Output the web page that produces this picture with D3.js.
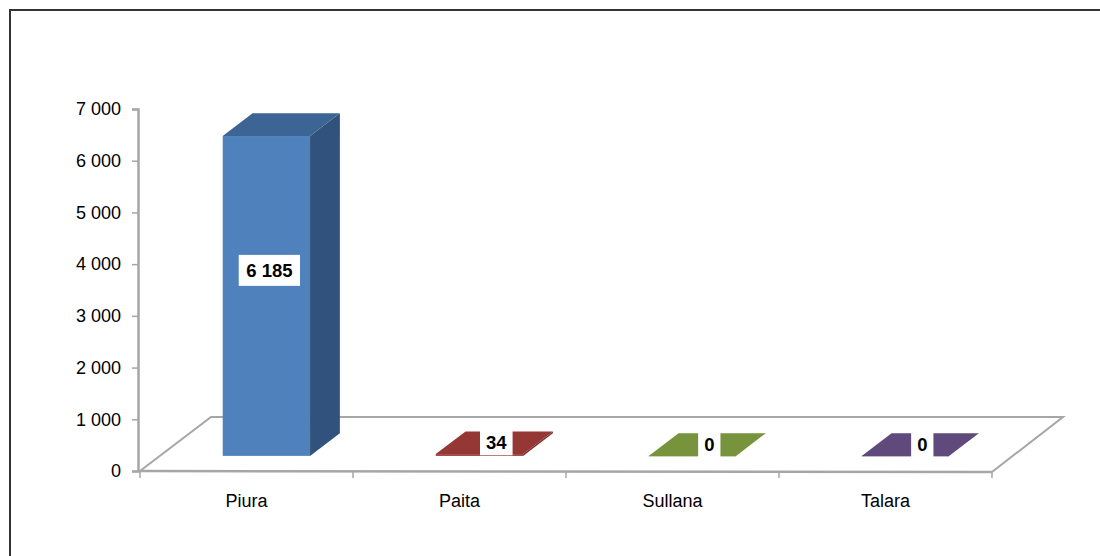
<!DOCTYPE html>
<html>
<head>
<meta charset="utf-8">
<script src="https://cdn.jsdelivr.net/npm/d3@7"></script>
<style>
  body { margin: 0; background: #fff; }
  text { font-family: "Liberation Sans", Arial, sans-serif; }
</style>
</head>
<body>
<svg id="chart" width="1100" height="556"></svg>
<script>
// data
const categories = ["Piura", "Paita", "Sullana", "Talara"];
const values = [6185, 34, 0, 0];
const yTicks = [0, 1000, 2000, 3000, 4000, 5000, 6000, 7000];

// colours per bar: front, side, top
const fronts = ["#4f81bd", "#953735", "#77933c", "#604a7b"];
const sides = ["#30527d", "#7a2c2b", "#5f7830", "#4c3b63"];
const tops = ["#3c6494", "#953735", "#77933c", "#604a7b"];

const svg = d3.select("#chart");

// frame around the chart (runs off the right and bottom)
svg.append("rect")
  .attr("x", 10).attr("y", 10)
  .attr("width", 1200).attr("height", 700)
  .attr("fill", "none")
  .attr("stroke", "#333")
  .attr("stroke-width", 2);

const fmt = d3.formatLocale({ decimal: ",", thousands: " ", grouping: [3], currency: ["", ""] }).format(",d");

// scales
const x = d3.scaleBand().domain(categories).range([140, 992]).paddingInner(0).paddingOuter(0);
const y = d3.scaleLinear().domain([0, 7000]).range([471, 109]);

// floor depth (3d offset front -> back)
const depthX = 71, depthY = -54;
const barD0 = 0.28, barD1 = 0.70;   // bar sits between these depth fractions
const barPad = 0.295;               // share of band left empty on each side

// floor outline
const x0 = x.range()[0], x1 = x.range()[1], yb = y(0);
svg.append("path")
  .attr("d", `M${x0},${yb} L${x0 + depthX},${yb + depthY} L${x1 + depthX},${yb + depthY} L${x1},${yb + 1}`)
  .attr("fill", "none")
  .attr("stroke", "#a6a6a6")
  .attr("stroke-width", 2);

// y axis
const yAxis = d3.axisLeft(y).tickValues(yTicks).tickFormat(fmt).tickSize(6).tickPadding(11);
const yg = svg.append("g").attr("transform", `translate(${x0 - 2},0)`).call(yAxis);
yg.select(".domain").attr("stroke", "#a6a6a6").attr("stroke-width", 2.5);
yg.selectAll(".tick line").attr("stroke", "#a6a6a6").attr("stroke-width", 1.5);
yg.selectAll(".tick text").attr("font-size", 18).attr("fill", "#000")
  .style("font-family", "'Liberation Sans', Arial, sans-serif");

// x axis line + ticks at band edges
svg.append("line")
  .attr("x1", x0 - 2).attr("x2", x1)
  .attr("y1", yb).attr("y2", yb + 1)
  .attr("stroke", "#a6a6a6").attr("stroke-width", 2.5);

const edges = categories.map((c) => x(c)).concat([x1]);
svg.selectAll(".xtick").data(edges).join("line")
  .attr("class", "xtick")
  .attr("x1", (d) => d).attr("x2", (d) => d)
  .attr("y1", yb).attr("y2", yb + 7)
  .attr("stroke", "#a6a6a6").attr("stroke-width", 1.5);

svg.selectAll(".xlabel").data(categories).join("text")
  .attr("class", "xlabel")
  .attr("x", (d) => x(d) + x.bandwidth() / 2)
  .attr("y", 507)
  .attr("text-anchor", "middle")
  .attr("font-size", 18)
  .text((d) => d);

// 3d bars
const bars = categories.map((c, i) => {
  const bw = x.bandwidth();
  const fx0 = x(c) + bw * barPad + depthX * barD0;
  const fx1 = x(c) + bw * (1 - barPad) + depthX * barD0;
  const base = y(0) + depthY * barD0;
  const h = y(0) - y(values[i]);
  const ddx = depthX * (barD1 - barD0), ddy = depthY * (barD1 - barD0);
  return { c, i, fx0, fx1, base, top: base - h, h, ddx, ddy, v: values[i] };
});

const g = svg.append("g");
bars.forEach((b) => {
  // front
  g.append("rect")
    .attr("x", b.fx0).attr("y", b.top)
    .attr("width", b.fx1 - b.fx0).attr("height", Math.max(b.h, 0.5))
    .attr("fill", fronts[b.i]);
  // side
  g.append("path")
    .attr("d", `M${b.fx1},${b.base} L${b.fx1},${b.top} L${b.fx1 + b.ddx},${b.top + b.ddy} L${b.fx1 + b.ddx},${b.base + b.ddy} Z`)
    .attr("fill", sides[b.i]);
  // top
  g.append("path")
    .attr("d", `M${b.fx0},${b.top} L${b.fx1},${b.top} L${b.fx1 + b.ddx},${b.top + b.ddy} L${b.fx0 + b.ddx},${b.top + b.ddy} Z`)
    .attr("fill", tops[b.i]);
});

// data labels in white boxes
bars.forEach((b) => {
  let cx, cy, fs, bh;
  if (b.h > 60) {
    cx = (b.fx0 + b.fx1) / 2 + 3;
    cy = b.base - b.h * 0.58;
    fs = 18.5; bh = 31;
  } else {
    cx = (b.fx0 + b.fx1) / 2 + b.ddx / 2 + 2;
    cy = b.top + b.ddy / 2;
    fs = 18.5; bh = 25;
  }
  const label = fmt(b.v);
  const t = g.append("text")
    .attr("x", cx).attr("y", cy)
    .attr("text-anchor", "middle")
    .attr("dominant-baseline", "central")
    .attr("font-size", fs)
    .attr("font-weight", "bold")
    .text(label);
  const w = t.node().getComputedTextLength() + (label.length > 2 ? 15 : 12);
  g.insert("rect", () => t.node())
    .attr("x", cx - w / 2).attr("y", cy - bh / 2)
    .attr("width", w).attr("height", bh)
    .attr("fill", "#fff");
});
</script>
</body>
</html>
